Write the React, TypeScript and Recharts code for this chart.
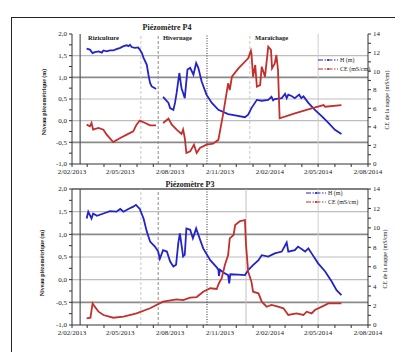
import React from "react";
import { ComposedChart, Line, XAxis, YAxis, ReferenceLine, Legend } from "recharts";

type Pt = [string, number | null];

// Piézomètre P4 : niveau (m) et CE (mS/cm); null = interruption de la série
const P4_H: Pt[] = [
  ["2013-03-01", 1.66], ["2013-03-07", 1.64], ["2013-03-12", 1.56], ["2013-03-16", 1.58],
  ["2013-03-23", 1.6], ["2013-03-29", 1.57], ["2013-04-01", 1.62], ["2013-04-07", 1.6],
  ["2013-04-13", 1.62], ["2013-04-19", 1.62], ["2013-04-25", 1.65], ["2013-05-02", 1.68],
  ["2013-05-08", 1.72], ["2013-05-14", 1.74], ["2013-05-17", 1.72], ["2013-05-20", 1.75],
  ["2013-05-23", 1.7], ["2013-05-29", 1.68], ["2013-06-04", 1.69], ["2013-06-07", 1.64],
  ["2013-06-11", 1.56], ["2013-06-14", 1.45], ["2013-06-20", 1.29], ["2013-06-23", 1.06],
  ["2013-06-26", 0.87], ["2013-06-29", 0.79], ["2013-07-05", 0.75], ["2013-07-07", 0.73],
  ["2013-07-13", null],
  ["2013-07-20", 0.55], ["2013-07-30", 0.41], ["2013-08-02", 0.29], ["2013-08-08", 0.25],
  ["2013-08-11", 0.41], ["2013-08-14", 0.64], ["2013-08-19", 1.1], ["2013-08-23", 0.75],
  ["2013-08-26", 0.64], ["2013-08-29", 0.52], ["2013-09-03", 1.18], ["2013-09-08", 1.22],
  ["2013-09-14", 1.06], ["2013-09-19", 1.33], ["2013-09-23", 1.22], ["2013-09-29", 0.91],
  ["2013-10-08", 0.6], ["2013-10-18", 0.41], ["2013-10-30", 0.25], ["2013-11-17", 0.15],
  ["2013-11-30", 0.12], ["2013-12-18", 0.08], ["2013-12-24", 0.14], ["2013-12-30", 0.29],
  ["2014-01-09", 0.48], ["2014-01-18", 0.46], ["2014-01-30", 0.48], ["2014-02-05", 0.55],
  ["2014-02-08", 0.47], ["2014-02-11", 0.5], ["2014-02-24", 0.52], ["2014-03-02", 0.62],
  ["2014-03-05", 0.52], ["2014-03-08", 0.6], ["2014-03-14", 0.57], ["2014-03-20", 0.52],
  ["2014-03-28", 0.6], ["2014-04-01", 0.52], ["2014-04-05", 0.56], ["2014-04-14", 0.41],
  ["2014-04-26", 0.25], ["2014-05-09", 0.1], ["2014-05-21", -0.05], ["2014-06-02", -0.21],
  ["2014-06-14", -0.31],
];

const P4_CE: Pt[] = [
  ["2013-03-01", 4.24], ["2013-03-07", 4.06], ["2013-03-10", 4.42], ["2013-03-13", 3.7],
  ["2013-03-23", 3.88], ["2013-04-01", 3.7], ["2013-04-07", 3.16], ["2013-04-19", 2.37],
  ["2013-05-02", 2.8], ["2013-05-14", 3.16], ["2013-05-26", 3.52], ["2013-06-01", 4.24],
  ["2013-06-07", 4.67], ["2013-06-17", 4.42], ["2013-06-26", 4.16], ["2013-07-07", 4.16],
  ["2013-07-13", null],
  ["2013-07-20", 4.42], ["2013-07-30", 4.88], ["2013-08-05", 4.24], ["2013-08-14", 3.7],
  ["2013-08-23", 3.23], ["2013-08-26", 3.7], ["2013-08-29", 2.8], ["2013-09-01", 1.18],
  ["2013-09-08", 1.36], ["2013-09-15", 2.08], ["2013-09-20", 1.18], ["2013-09-26", 1.72],
  ["2013-10-08", 2.08], ["2013-10-20", 2.19], ["2013-10-30", 2.6], ["2013-11-08", 5.46],
  ["2013-11-14", 7.61], ["2013-11-17", 8.69], ["2013-11-20", 7.97], ["2013-11-24", 9.4],
  ["2013-12-06", 10.3], ["2013-12-24", 11.38], ["2013-12-29", 12.2], ["2013-12-30", 11.9],
  ["2014-01-02", 9.4], ["2014-01-06", 10.66], ["2014-01-09", 8.33], ["2014-01-15", 8.5],
  ["2014-01-18", 10.48], ["2014-01-24", 9.4], ["2014-01-30", 12.63], ["2014-02-04", 12.28],
  ["2014-02-06", 10.3], ["2014-02-11", 10.84], ["2014-02-14", 11.74], ["2014-02-17", 10.12],
  ["2014-02-20", 4.92], ["2014-03-20", 5.46], ["2014-04-20", 6.0], ["2014-05-12", 6.35],
  ["2014-05-15", 6.17], ["2014-06-14", 6.35],
];

// Piézomètre P3
const P3_H: Pt[] = [
  ["2013-03-01", 1.35], ["2013-03-04", 1.5], ["2013-03-10", 1.35], ["2013-03-13", 1.46],
  ["2013-03-20", 1.41], ["2013-04-01", 1.46], ["2013-04-13", 1.51], ["2013-04-25", 1.5],
  ["2013-05-02", 1.56], ["2013-05-08", 1.5], ["2013-05-17", 1.56], ["2013-05-26", 1.61],
  ["2013-05-31", 1.65], ["2013-06-07", 1.56], ["2013-06-14", 1.35], ["2013-06-20", 1.06],
  ["2013-06-26", 0.84], ["2013-07-05", 0.73], ["2013-07-11", 0.62], ["2013-07-14", 0.46],
  ["2013-07-20", 0.65], ["2013-07-27", 0.62], ["2013-08-02", 0.4], ["2013-08-08", 0.29],
  ["2013-08-13", 0.33], ["2013-08-17", 0.8], ["2013-08-20", 1.02], ["2013-08-26", 0.51],
  ["2013-08-29", 0.55], ["2013-09-01", 1.13], ["2013-09-08", 1.1], ["2013-09-13", 0.91],
  ["2013-09-19", 1.13], ["2013-09-23", 0.99], ["2013-10-02", 0.69], ["2013-10-15", 0.43],
  ["2013-10-27", 0.27], ["2013-10-30", 0.22], ["2013-10-31", 0.08], ["2013-11-02", 0.22],
  ["2013-11-08", 0.16], ["2013-11-17", 0.1], ["2013-11-19", -0.08], ["2013-11-21", 0.12],
  ["2013-12-06", 0.11], ["2013-12-18", 0.1], ["2013-12-24", 0.21], ["2014-01-02", 0.32],
  ["2014-01-12", 0.43], ["2014-01-18", 0.54], ["2014-01-30", 0.51], ["2014-02-11", 0.58],
  ["2014-02-24", 0.62], ["2014-03-05", 0.82], ["2014-03-08", 0.62], ["2014-03-20", 0.65],
  ["2014-03-26", 0.73], ["2014-04-08", 0.62], ["2014-04-14", 0.69], ["2014-04-20", 0.58],
  ["2014-05-02", 0.36], ["2014-05-15", 0.18], ["2014-05-27", -0.04], ["2014-06-05", -0.23],
  ["2014-06-14", -0.34],
];

const P3_CE: Pt[] = [
  ["2013-03-01", 0.69], ["2013-03-08", 0.75], ["2013-03-12", 2.23], ["2013-03-16", 1.89],
  ["2013-03-23", 1.37], ["2013-04-01", 1.03], ["2013-04-19", 0.75], ["2013-05-08", 0.86],
  ["2013-06-01", 1.2], ["2013-06-26", 1.72], ["2013-07-20", 2.4], ["2013-08-14", 2.64],
  ["2013-08-26", 2.57], ["2013-09-08", 2.81], ["2013-09-20", 2.88], ["2013-10-02", 3.43],
  ["2013-10-15", 3.78], ["2013-10-27", 3.71], ["2013-10-31", 4.3], ["2013-11-05", 4.8],
  ["2013-11-11", 6.18], ["2013-11-17", 7.2], ["2013-11-20", 8.92], ["2013-11-27", 9.26],
  ["2013-11-30", 10.29], ["2013-12-09", 10.7], ["2013-12-18", 10.8], ["2013-12-20", 8.24],
  ["2013-12-24", 5.49], ["2013-12-30", 4.46], ["2014-01-02", 3.43], ["2014-01-12", 3.26],
  ["2014-01-18", 2.4], ["2014-01-27", 1.88], ["2014-02-05", 2.06], ["2014-02-17", 1.88],
  ["2014-02-27", 1.72], ["2014-03-08", 1.03], ["2014-03-23", 1.2], ["2014-04-05", 1.03],
  ["2014-04-11", 1.37], ["2014-04-20", 1.2], ["2014-04-26", 1.54], ["2014-05-09", 1.89],
  ["2014-05-21", 2.23], ["2014-06-14", 2.23],
];

const X_TICKS = [
  "2013-02-02", "2013-03-02", "2013-04-02", "2013-05-02", "2013-06-02", "2013-07-02",
  "2013-08-02", "2013-09-02", "2013-10-02", "2013-11-02", "2013-12-02", "2014-01-02",
  "2014-02-02", "2014-03-02", "2014-04-02", "2014-05-02", "2014-06-02", "2014-07-02",
  "2014-08-02",
];
const X_LABELS = ["2013-02-02", "2013-05-02", "2013-08-02", "2013-11-02", "2014-02-02", "2014-05-02", "2014-08-02"];
const H_TICKS = [-1, -0.75, -0.5, -0.25, 0, 0.25, 0.5, 0.75, 1, 1.25, 1.5, 1.75, 2];
const CE_TICKS = [0, 1, 2, 3, 4, 5, 6, 7, 8, 9, 10, 11, 12, 13, 14];
const H_GRID = [1.5, 1, 0.5, 0, -0.5];
const PHASES = ["Riziculture", "Hivernage", "Maraîchage"];
const SERIES = ["H (m)", "CE (mS/cm)"];

// séparations verticales (dates)
const P4_MARKS = ["2013-02-17", "2013-06-09", "2013-07-11", "2013-10-09", "2013-12-27", "2014-05-02"];
const P3_MARKS = ["2013-02-17", "2013-06-09", "2013-07-11", "2013-10-09", "2013-12-20", "2014-05-02"];

const SERIF = "Liberation Serif, Times New Roman, DejaVu Serif, serif";
const BLUE = "#2323c8";
const RED = "#c3302c";

const ts = (d: string) => Date.UTC(+d.slice(0, 4), +d.slice(5, 7) - 1, +d.slice(8, 10));
const toRows = (pts: Pt[]) => pts.map(([d, v]) => ({ t: ts(d), v }));

const fmtDate = (t: number) => {
  const d = new Date(t);
  if (!X_LABELS.includes(d.toISOString().slice(0, 10))) return "";
  return `${d.getUTCDate()}/${String(d.getUTCMonth() + 1).padStart(2, "0")}/${d.getUTCFullYear()}`;
};
const fmtH = (v: number) => (Math.abs(v * 2 - Math.round(v * 2)) < 1e-6 ? v.toFixed(1).replace(".", ",") : "");
const fmtCE = (v: number) => (v % 2 === 0 ? String(v) : "");

const gridStyle = (v: number) =>
  v === 1 || v === -0.5 ? { stroke: "#8a8a8a", strokeWidth: 1.6 } : { stroke: "#bdbdbd", strokeWidth: 1.2 };

const markStyle = (i: number, light: boolean) => {
  if (i === 0) return { stroke: "#555", strokeWidth: 1.2 };
  if (i === 1) return { stroke: "#c8c8c8", strokeWidth: 1, strokeDasharray: "3 2" };
  if (i === 2) return { stroke: "#8c8c8c", strokeWidth: 1, strokeDasharray: "3 2" };
  if (i === 3) return { stroke: "#333", strokeWidth: 1, strokeDasharray: "1 1.5" };
  if (i === 4) return light ? { stroke: "#c8c8c8", strokeWidth: 1, strokeDasharray: "3 2" } : { stroke: "#c0c0c0", strokeWidth: 1 };
  return { stroke: "#cfcfcf", strokeWidth: 1 };
};

const LegendBox = ({ payload }: any) => {
  const items = [...(payload || [])].sort((a: any, b: any) => SERIES.indexOf(a.value) - SERIES.indexOf(b.value));
  return (
    <svg width={62} height={20} style={{ display: "block" }}>
      {items.map((p: any, i: number) => (
        <g key={p.value} transform={`translate(0, ${i * 9 + 4})`}>
          <line x1={0} x2={20} y1={0} y2={0} stroke={p.color} strokeWidth={1.2} strokeDasharray="5 1.5 1.5 1.5" />
          <circle cx={10} cy={0} r={1.1} fill={p.color} />
          <text x={22} y={2.2} fontSize={6} fontFamily={SERIF} fill="#222">{p.value}</text>
        </g>
      ))}
    </svg>
  );
};

interface PanelProps {
  h: Pt[];
  ce: Pt[];
  marks: string[];
  height: number;
  margin: { top: number; right: number; bottom: number; left: number };
  legend: { left: number; top: number };
  topLine?: boolean;
  p4?: boolean;
}

function Panel({ h, ce, marks, height, margin, legend, topLine, p4 }: PanelProps) {
  const tick = { fontSize: 7, fill: "#222", fontFamily: SERIF };
  return (
    <ComposedChart width={395} height={height} margin={margin} style={{ fontFamily: SERIF }}>
      <XAxis
        dataKey="t"
        type="number"
        domain={[ts(X_TICKS[0]), ts(X_TICKS[X_TICKS.length - 1])]}
        ticks={X_TICKS.map(ts)}
        interval={0}
        tickFormatter={fmtDate}
        tick={tick}
        tickSize={3}
        tickMargin={2}
        stroke="#333"
        height={14}
      />
      <YAxis
        yAxisId="h"
        domain={[-1, 2]}
        ticks={H_TICKS}
        interval={0}
        tickFormatter={fmtH}
        tick={tick}
        tickSize={3}
        tickMargin={2}
        stroke="#333"
        width={30}
      />
      <YAxis
        yAxisId="ce"
        orientation="right"
        domain={[0, 14]}
        ticks={CE_TICKS}
        interval={0}
        tickFormatter={fmtCE}
        tick={tick}
        tickSize={3}
        tickMargin={2}
        stroke="#333"
        width={20}
      />
      {H_GRID.map((v) => (
        <ReferenceLine key={v} yAxisId="h" y={v} {...gridStyle(v)} />
      ))}
      {topLine && <ReferenceLine yAxisId="h" y={2} stroke="#555" strokeWidth={1.6} />}
      {marks.map((d, i) => (
        <ReferenceLine key={d} yAxisId="h" x={ts(d)} {...markStyle(i, !!p4)} />
      ))}
      <Line yAxisId="h" data={toRows(h)} dataKey="v" name={SERIES[0]} stroke={BLUE} strokeWidth={1.8} dot={false} isAnimationActive={false} />
      <Line yAxisId="ce" data={toRows(ce)} dataKey="v" name={SERIES[1]} stroke={RED} strokeWidth={1.8} dot={false} isAnimationActive={false} />
      <Legend
        layout="vertical"
        align="center"
        verticalAlign="middle"
        wrapperStyle={{ left: legend.left, top: legend.top, width: 62 }}
        content={<LegendBox />}
      />
    </ComposedChart>
  );
}

export default function App() {
  const txt = { fontFamily: SERIF, fill: "#1a1a1a" };
  return (
    <div style={{ position: "absolute", left: 0, top: 0, width: 395, height: 352, overflow: "hidden", background: "#fff", fontFamily: SERIF }}>
      <div
        style={{
          position: "absolute",
          left: 11,
          top: 17,
          width: 400,
          height: 360,
          borderLeft: "1.5px solid #222",
          borderTop: "1.5px solid #222",
        }}
      />
      <div style={{ position: "absolute", left: 0, top: 0 }}>
        <Panel
          h={P4_H}
          ce={P4_CE}
          marks={P4_MARKS}
          height={185}
          margin={{ top: 34, right: 7, bottom: 7, left: 42 }}
          legend={{ left: 318, top: 56 }}
          p4
        />
      </div>
      <div style={{ position: "absolute", left: 0, top: 170 }}>
        <Panel
          h={P3_H}
          ce={P3_CE}
          marks={P3_MARKS}
          height={182}
          margin={{ top: 19, right: 7, bottom: 13, left: 42 }}
          legend={{ left: 306, top: 19 }}
          topLine
        />
      </div>
      <svg width={395} height={352} style={{ position: "absolute", left: 0, top: 0, pointerEvents: "none" }}>
        <text x={167} y={30} textAnchor="middle" fontSize={8} fontWeight="bold" {...txt}>Piézomètre P4</text>
        <text x={190} y={187} textAnchor="middle" fontSize={8} fontWeight="bold" {...txt}>Piézomètre P3</text>
        <text x={88} y={40} fontSize={6.5} fontWeight="bold" {...txt}>{PHASES[0]}</text>
        <text x={163} y={40} fontSize={6.5} fontWeight="bold" {...txt}>{PHASES[1]}</text>
        <text x={255} y={40} fontSize={6.5} fontWeight="bold" {...txt}>{PHASES[2]}</text>
        <text transform="translate(46,102) rotate(-90)" textAnchor="middle" fontSize={6} fontWeight="bold" {...txt}>Niveau piézométrique (m)</text>
        <text transform="translate(44,263) rotate(-90)" textAnchor="middle" fontSize={6} fontWeight="bold" {...txt}>Niveau piézométrique (m)</text>
        <text transform="translate(389,100) rotate(-90)" textAnchor="middle" fontSize={6} {...txt}>CE de la nappe (mS/cm)</text>
        <text transform="translate(387,259) rotate(-90)" textAnchor="middle" fontSize={6} {...txt}>CE de la nappe (mS/cm)</text>
      </svg>
    </div>
  );
}
